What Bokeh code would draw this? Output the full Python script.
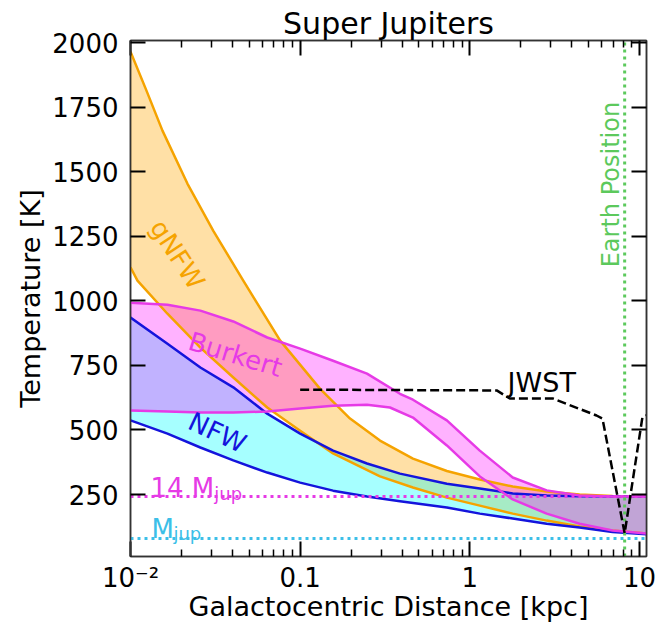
import math
from bokeh.plotting import figure
from bokeh.models import FixedTicker, LinearAxis, LogAxis
from bokeh.embed import file_html
from bokeh.resources import INLINE
from bokeh.core.properties import value

# ---------------- data ----------------
# gNFW band
gnfw_hi_r = [0.01, 0.01242, 0.01543, 0.02164, 0.03077, 0.04621, 0.07627,
             0.1311, 0.1968, 0.2955, 0.4621, 0.7322, 1.145, 1.790, 2.838,
             4.437, 6.937, 11]
gnfw_hi_T = [1965, 1814, 1659, 1454, 1271, 1078, 846,
             659, 544, 459, 389, 341, 308, 281, 262,
             250, 244, 242]
gnfw_lo_r = [0.01, 0.01099, 0.01651, 0.02581, 0.04036, 0.06396, 0.1,
             0.1563, 0.2955, 0.4621, 0.7322, 1.145, 1.790, 2.838, 4.437,
             6.937, 11]
gnfw_lo_T = [1130, 1078, 950, 819, 703, 587, 497,
             409, 320, 277, 238, 207, 176, 149, 126,
             111, 99]

# Burkert band
burk_r = [0.01, 0.01651, 0.02581, 0.04036, 0.06396, 0.1, 0.1563, 0.2477,
          0.3876, 0.4621, 0.7322, 1.145, 1.790, 2.838, 4.437, 6.937, 11]
burk_hi_T = [993, 985, 962, 920, 858, 815, 768, 718,
             640, 617, 537, 420, 316, 266, 246, 242, 242]
burk_lo_r = [0.01, 0.01651, 0.02581, 0.04036, 0.06396, 0.1, 0.1563, 0.2477,
             0.3383, 0.4621, 0.7322, 1.145, 1.790, 2.838, 4.437, 6.937, 11]
burk_lo_T = [575, 571, 568, 568, 571, 583, 594, 598,
             587, 548, 440, 320, 231, 176, 137, 111, 99]

# NFW band
nfw_hi_r = [0.01, 0.01651, 0.02581, 0.04036, 0.05081, 0.06396, 0.1, 0.1563,
            0.2477, 0.3876, 0.7322, 1.145, 1.790, 2.838, 4.437, 11]
nfw_hi_T = [935, 834, 742, 665, 614, 563, 486, 420,
            370, 331, 292, 273, 254, 246, 243, 242]
nfw_lo_r = [0.01, 0.01651, 0.02581, 0.04036, 0.06396, 0.1, 0.1563, 0.2477,
            0.3876, 0.7322, 1.145, 1.790, 2.838, 4.437, 6.937, 11]
nfw_lo_T = [537, 486, 432, 382, 335, 296, 265, 242,
            224, 200, 176, 157, 137, 122, 105, 96]

# JWST sensitivity
jwst_r = [0.1, 1.44, 1.72, 3.08, 5.58, 6.05, 8.178, 10.4, 11]
jwst_T = [656, 653, 622, 622, 556, 544, 100, 548, 556]

earth_r = 8.178
T_14mjup = 242
T_mjup = 80

x_major = [0.01, 0.1, 1, 10]
x_minor = [0.02, 0.03, 0.04, 0.05, 0.06, 0.07, 0.08, 0.09,
           0.2, 0.3, 0.4, 0.5, 0.6, 0.7, 0.8, 0.9,
           2, 3, 4, 5, 6, 7, 8, 9]
x_labels = {0.01: "10\u207b\u00b2", 0.1: "0.1", 1: "1", 10: "10"}
y_major = [250, 500, 750, 1000, 1250, 1500, 1750, 2000]

# ---------------- styles ----------------
FONT = "DejaVu Sans"
ORANGE = "#f5a300"
MAGENTA = "#e63ae6"
BLUE = "#1414dc"
CYAN = "#00ffff"
SKY = "#3cbfe8"
GREEN = "#5cc95c"

p = figure(x_axis_type="log", x_range=(0.01, 11), y_range=(10, 2008),
           width=659, height=635,
           min_border_left=130, min_border_right=13, min_border_top=40,
           min_border_bottom=79,
           output_backend="svg", toolbar_location=None)
p.background_fill_color = "white"
p.border_fill_color = "white"
p.grid.visible = False
p.outline_line_color = "#333333"
p.outline_line_width = 1.5

p.title.text = "Super Jupiters"
p.title.align = "center"
p.title.text_font = FONT
p.title.text_font_size = "30px"
p.title.text_font_style = "normal"
p.title.text_color = "black"
p.title.standoff = 0


def band(hx, hy, lx, ly, fill, alpha):
    p.patch(x=list(hx) + list(lx)[::-1], y=list(hy) + list(ly)[::-1],
            fill_color=fill, fill_alpha=alpha, line_color=None)


band(gnfw_hi_r, gnfw_hi_T, gnfw_lo_r, gnfw_lo_T, "orange", 0.35)
band(nfw_hi_r, nfw_hi_T, nfw_lo_r, nfw_lo_T, CYAN, 0.35)
band(burk_r, burk_hi_T, burk_lo_r, burk_lo_T, "magenta", 0.3)

for xs, ys, c in [(gnfw_hi_r, gnfw_hi_T, ORANGE), (gnfw_lo_r, gnfw_lo_T, ORANGE),
                  (nfw_hi_r, nfw_hi_T, BLUE), (nfw_lo_r, nfw_lo_T, BLUE),
                  (burk_r, burk_hi_T, MAGENTA), (burk_lo_r, burk_lo_T, MAGENTA)]:
    p.line(xs, ys, line_color=c, line_width=2.5, line_join="round")

# reference lines
p.line([0.01, 11], [T_14mjup, T_14mjup], line_color=MAGENTA, line_width=3,
       line_dash="3 4")
p.line([0.01, 11], [T_mjup, T_mjup], line_color=SKY, line_width=3,
       line_dash="3 4")
p.line([earth_r, earth_r], [10, 2008], line_color=GREEN, line_width=3,
       line_dash="3 4")
p.line(jwst_r, jwst_T, line_color="black", line_width=2.5, line_dash="9 4")


def txt(x, y, s, color, size="26px", angle=0.0, align="center",
        baseline="middle"):
    p.text(x=[x], y=[y], text=[s], text_color=color,
           text_font=value(FONT), text_font_size=size,
           angle=angle, text_align=align, text_baseline=baseline)


txt(0.0189, 1179, "gNFW", ORANGE, angle=math.radians(-57))
txt(0.0415, 792, "Burkert", MAGENTA, angle=math.radians(-17))
txt(0.0325, 490, "NFW", BLUE, angle=math.radians(-25))
txt(1.67, 683, "JWST", "black", size="27px", align="left", baseline="alphabetic")
txt(6.75, 1450, "Earth Position", GREEN, size="24px", angle=math.pi / 2)
txt(0.0131, 277, "14 M", MAGENTA, align="left", baseline="alphabetic")
txt(0.0312, 254, "jup", MAGENTA, size="18px", align="left", baseline="alphabetic")
txt(0.01329, 118, "M", SKY, align="left", baseline="alphabetic")
txt(0.0179, 99, "jup", SKY, size="18px", align="left", baseline="alphabetic")


def style_axis(ax, labels=True):
    ax.axis_line_color = "#333333"
    ax.axis_line_width = 1.5
    ax.major_tick_in = 15
    ax.major_tick_out = 0
    ax.minor_tick_in = 7
    ax.minor_tick_out = 0
    ax.major_tick_line_color = "black"
    ax.major_tick_line_width = 2
    ax.minor_tick_line_color = "black"
    ax.minor_tick_line_width = 1.5
    ax.major_label_text_font = FONT
    ax.major_label_text_font_size = "26px" if labels else "1px"
    ax.major_label_text_color = "black" if labels else "white"
    ax.major_label_text_alpha = 1.0 if labels else 0.0
    ax.axis_label_text_font = FONT
    ax.axis_label_text_font_size = "27px"
    ax.axis_label_text_font_style = "normal"
    ax.axis_label_text_color = "black"


xa = p.xaxis[0]
xa.ticker = FixedTicker(ticks=x_major, minor_ticks=x_minor)
xa.major_label_overrides = x_labels
xa.axis_label = "Galactocentric Distance [kpc]"
style_axis(xa)
xa.major_label_standoff = 6
xa.axis_label_standoff = -5

ya = p.yaxis[0]
ya.ticker = FixedTicker(ticks=y_major, minor_ticks=[])
ya.axis_label = "Temperature [K]"
style_axis(ya)
ya.major_label_standoff = 12
ya.axis_label_standoff = 3

top = LogAxis(ticker=FixedTicker(ticks=x_major, minor_ticks=x_minor))
style_axis(top, labels=False)
top.major_label_standoff = 0
p.add_layout(top, "above")

right = LinearAxis(ticker=FixedTicker(ticks=y_major, minor_ticks=[]))
style_axis(right, labels=False)
right.major_label_standoff = 0
p.add_layout(right, "right")

open("out.html", "w").write(file_html(p, INLINE))
